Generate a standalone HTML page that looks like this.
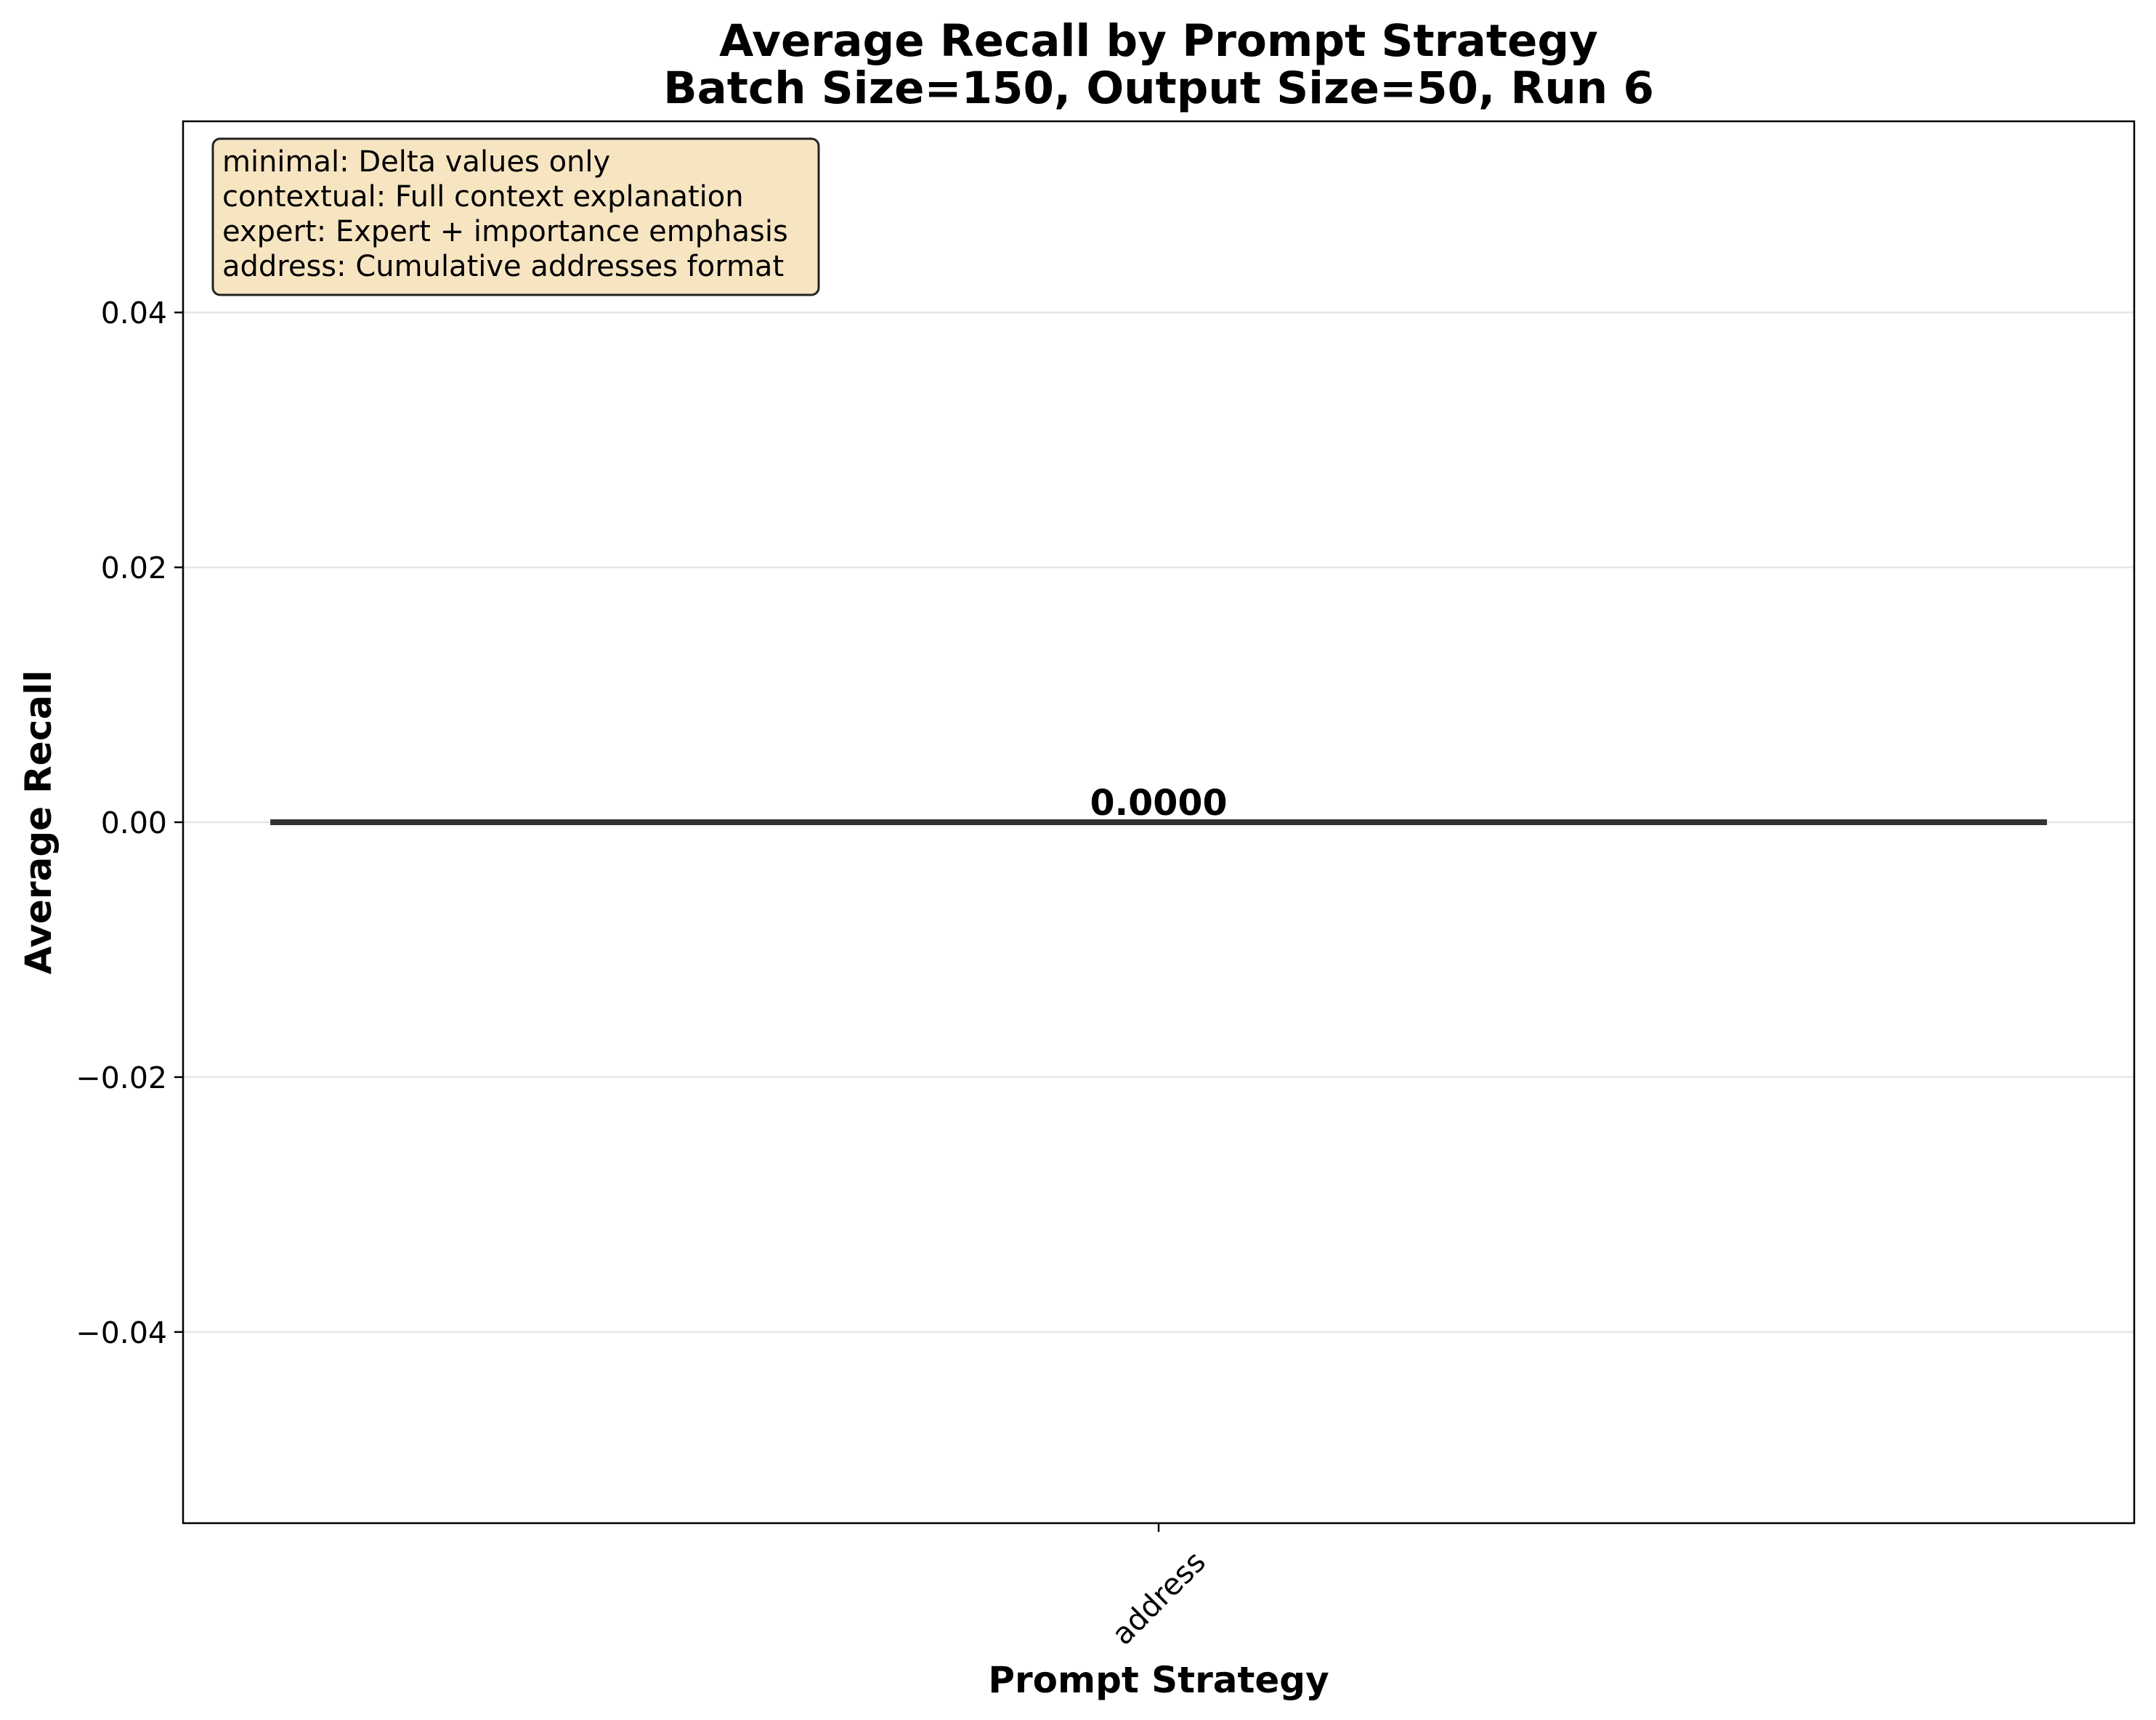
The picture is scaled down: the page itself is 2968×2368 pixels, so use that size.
<!DOCTYPE html>
<html><head><meta charset="utf-8"><style>
html,body{margin:0;padding:0;background:#fff;}
svg{display:block;font-family:"DejaVu Sans","Liberation Sans",sans-serif;}
</style></head><body>
<svg id="chart" width="2968" height="2368" viewBox="0 0 2968 2368" xmlns="http://www.w3.org/2000/svg">
<rect width="2968" height="2368" fill="#fff"/>
<text x="1595" y="77" text-anchor="middle" font-size="61" font-weight="bold">Average Recall by Prompt Strategy</text>
<text x="1595" y="142" text-anchor="middle" font-size="61" font-weight="bold">Batch Size=150, Output Size=50, Run 6</text>
<g id="grid"></g>
<g id="bars"></g>
<g id="yticks"></g>
<g id="xticks"></g>
<rect x="252" y="167" width="2686" height="1930" fill="none" stroke="#000" stroke-width="2.5"/>
<g>
<rect x="293" y="191" width="834" height="215" rx="10" fill="#f5deb3" fill-opacity="0.8" stroke="#222" stroke-width="3"/>
<text x="306" y="236" font-size="40">minimal: Delta values only</text>
<text x="306" y="284" font-size="40">contextual: Full context explanation</text>
<text x="306" y="332" font-size="40">expert: Expert + importance emphasis</text>
<text x="306" y="380" font-size="40">address: Cumulative addresses format</text>
</g>
<text transform="translate(53,1132) rotate(-90)" text-anchor="middle" dominant-baseline="central" font-size="50" font-weight="bold">Average Recall</text>
<text x="1595" y="2330" text-anchor="middle" font-size="50" font-weight="bold">Prompt Strategy</text>
</svg>
<script>
const categories = ["address"];
const recallValues = [0.0];
const yTickValues = [-0.04, -0.02, 0.00, 0.02, 0.04];
const yTickLabels = ["\u22120.04", "\u22120.02", "0.00", "0.02", "0.04"];
const NS = "http://www.w3.org/2000/svg";
const L = 252, R = 2938, T = 167, B = 2097;
const yMin = -0.055, yMax = 0.055;
const xMin = -0.44, xMax = 0.44;
function ys(v){ return B - (v - yMin) / (yMax - yMin) * (B - T); }
function xs(v){ return L + (v - xMin) / (xMax - xMin) * (R - L); }
function mk(tag, attrs, parent){ const e = document.createElementNS(NS, tag); for (const k in attrs) e.setAttribute(k, attrs[k]); parent.appendChild(e); return e; }
const grid = document.getElementById('grid'), yt = document.getElementById('yticks'), bars = document.getElementById('bars'), xt = document.getElementById('xticks');
yTickValues.forEach((v, i) => {
  const y = ys(v);
  const g = mk('line', {x1: L, x2: R, y1: y, y2: y, stroke: '#e6e6e6', 'stroke-width': 2.5}, grid);
  
  
  const t = mk('line', {x1: L - 12, x2: L, y1: y, y2: y, stroke: '#000', 'stroke-width': 2.5}, yt);
  
  
  const lb = mk('text', {x: L - 22, y: y + 15, 'text-anchor': 'end', 'font-size': 41}, yt);
  lb.textContent = yTickLabels[i];
  
  
});
categories.forEach((c, i) => {
  const v = recallValues[i];
  const x0 = xs(i - 0.4), x1 = xs(i + 0.4);
  const yTop = Math.min(ys(v), ys(0)), h = Math.max(Math.abs(ys(v) - ys(0)), 0);
  const bar = mk('rect', {x: x0, y: yTop - 2, width: x1 - x0, height: h + 4, fill: '#4d4d4d', stroke: '#333', 'stroke-width': 4}, bars);
  
  
  const lab = mk('text', {x: xs(i), y: ys(v) - 10, 'text-anchor': 'middle', 'font-size': 49, 'font-weight': 'bold'}, bars);
  lab.textContent = v.toFixed(4);
  
  
  const tk = mk('line', {x1: xs(i), x2: xs(i), y1: B, y2: B + 12, stroke: '#000', 'stroke-width': 2.5}, xt);
  
  
  const tl = mk('text', {transform: 'translate(' + xs(i) + ',' + (B + 103) + ') rotate(-45)', 'text-anchor': 'middle', 'dominant-baseline': 'central', 'font-size': 41}, xt);
  tl.textContent = c;
  
  
});
</script>
</body></html>
